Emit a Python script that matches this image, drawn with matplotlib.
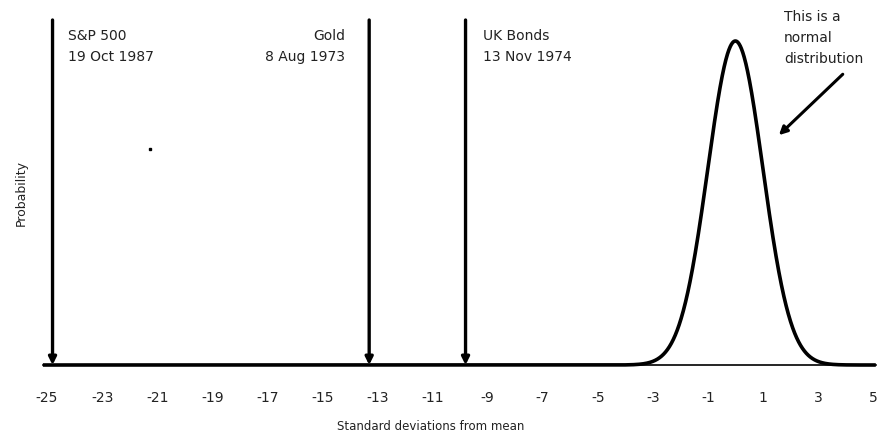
import matplotlib.pyplot as plt
import numpy as np

plt.rcParams['font.family'] = ['DejaVu Sans']

# events (in standard deviations from mean)
event_x = [-24.8, -13.3, -9.8]
event_names = ["S&P 500", "Gold", "UK Bonds"]
event_dates = ["19 Oct 1987", "8 Aug 1973", "13 Nov 1974"]
event_align = ["left", "right", "left"]
label_x = [-24.24, -14.18, -9.16]

# normal distribution parameters
mu = 0.0
sigma = 1.0

tick_vals = np.arange(-25, 6, 2)
stray_dot = (-21.25, 0.266)

fig = plt.figure(figsize=(8.8, 4.39), dpi=100)
W, H = 880, 439
x0, x1 = -25.15, 5.1
left_px, right_px = 42.9, 875.8
bot_px, top_px = 73, 418
ax = fig.add_axes([left_px / W, bot_px / H, (right_px - left_px) / W, (top_px - bot_px) / H])
ymax = 0.4248
ax.set_xlim(x0, x1)
ax.set_ylim(0, ymax)

# the curve
xs = np.linspace(x0, x1, 3000)
pdf = np.exp(-0.5 * ((xs - mu) / sigma) ** 2) / (sigma * np.sqrt(2 * np.pi))
ax.plot(xs, pdf, color='black', lw=2.6, clip_on=False, solid_capstyle='butt', zorder=3)

# event arrows
for x, name, date, ha, lx in zip(event_x, event_names, event_dates, event_align, label_x):
    ax.annotate('', xy=(x, 0), xytext=(x, ymax),
                arrowprops=dict(arrowstyle='-|>', lw=2.4, color='black',
                                mutation_scale=11, shrinkA=0, shrinkB=0),
                annotation_clip=False)
    ax.text(lx, 0.3934, name + "\n" + date, ha=ha, va='center',
            fontsize=10, linespacing=1.55, color='#222222')

# normal distribution note
ax.annotate('', xy=(1.58, 0.283), xytext=(3.9, 0.358),
            arrowprops=dict(arrowstyle='-|>', lw=2.2, color='black',
                            mutation_scale=12, shrinkA=0, shrinkB=0))
ax.text(1.77, 0.4039, "This is a\nnormal\ndistribution", ha='left', va='center',
        fontsize=10, linespacing=1.65, color='#222222')

ax.plot([stray_dot[0]], [stray_dot[1]], marker='s', ms=1.5, color='black', lw=0)

for s in ['top', 'right', 'left']:
    ax.spines[s].set_visible(False)
ax.spines['bottom'].set_linewidth(1.2)
ax.set_yticks([])
ax.set_xticks(tick_vals)
ax.set_xticklabels([str(t) for t in tick_vals], fontsize=10, color='#222222')
ax.tick_params(axis='x', length=0, pad=18)
ax.set_xlabel("Standard deviations from mean", fontsize=8.5, color='#222222', va='center')
ax.xaxis.set_label_coords((431 - left_px) / (right_px - left_px), -(427 - 366) / (top_px - bot_px))
ax.set_ylabel("Probability", fontsize=9, color='#222222')
ax.yaxis.set_label_coords((28 - left_px) / (right_px - left_px), 0.5)

fig.savefig('out.png', dpi=100)
